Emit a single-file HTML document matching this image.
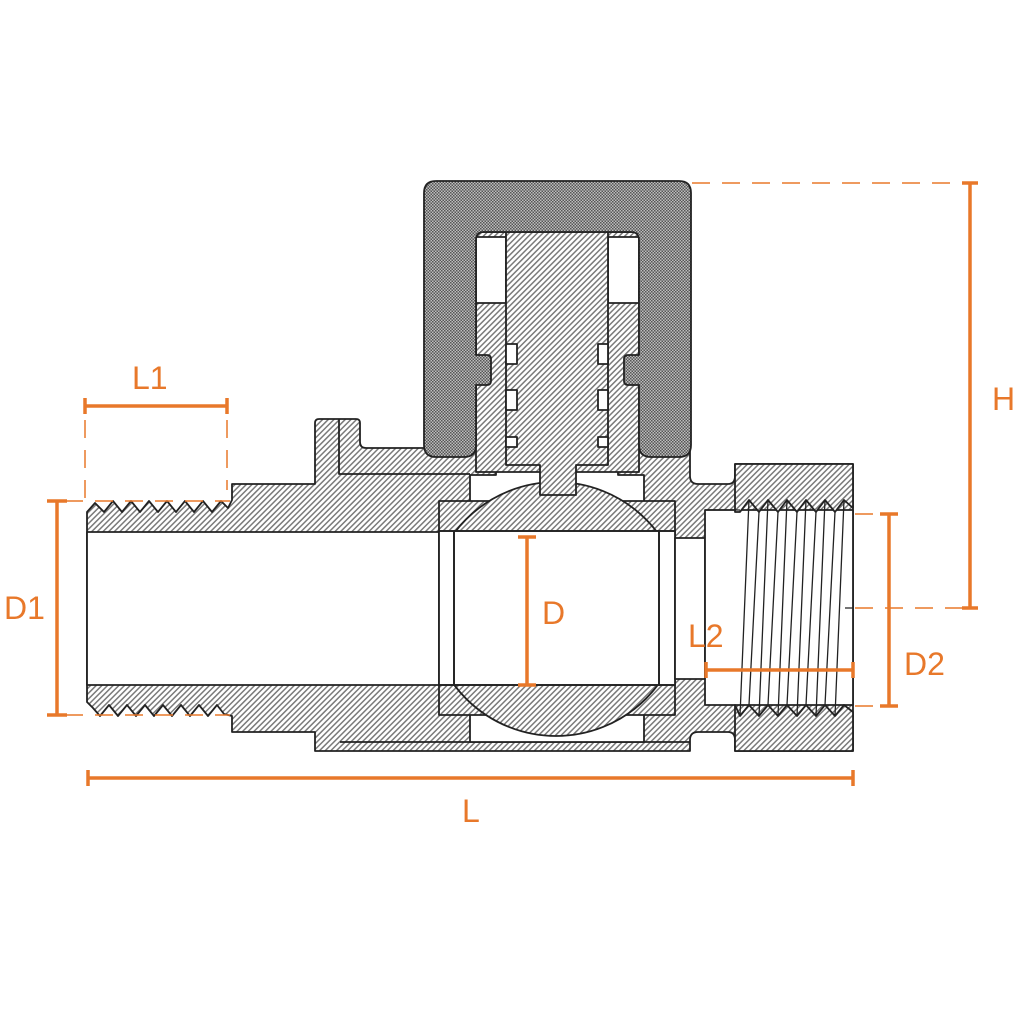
<!DOCTYPE html>
<html><head><meta charset="utf-8"><style>html,body{margin:0;padding:0;background:#fff}svg{display:block}</style></head>
<body>
<svg width="1024" height="1024" viewBox="0 0 1024 1024" xmlns="http://www.w3.org/2000/svg">
<defs>
<pattern id="h" width="4" height="4" patternUnits="userSpaceOnUse" patternTransform="rotate(45)">
<rect width="4" height="4" fill="#fff"/><rect width="1.5" height="4" fill="#7a7a7a"/></pattern>
<pattern id="x" width="3" height="3" patternUnits="userSpaceOnUse">
<rect width="3" height="3" fill="#bdbdbd"/><rect width="1.5" height="1.5" fill="#555"/><rect x="1.5" y="1.5" width="1.5" height="1.5" fill="#555"/></pattern>
</defs>
<g stroke="#222" stroke-width="1.8" stroke-linejoin="round">
<path fill="url(#h)" d="M87,512 L95,503 L104,512 L113,501 L122,512 L131,501 L140,512 L149,501 L158,512 L167,501 L176,512 L185,501 L194,512 L203,501 L212,512 L221,501 L228,508 L232,500 V484 H315 V423 Q315,419 319,419 H356 Q360,419 360,423 V442 Q360,448 366,448 H690 V476 Q690,484 698,484 H728 Q735,484 735,476 V464 H853 V751 H735 V740 Q735,732 728,732 H698 Q690,732 690,740 V751 H315 V732 H232 V716 L224,714 L217,705 L208,716 L199,705 L190,716 L181,705 L172,716 L163,705 L154,716 L145,705 L136,716 L127,705 L118,716 L109,705 L100,716 L93,708 L87,702 Z"/>
<path fill="none" d="M339,419 V474 H470 M340,742 H690"/>
<rect x="87" y="532" width="353" height="153" fill="#fff"/>
<path fill="#fff" d="M470,475 H496 V448 H618 V475 H644 V742 H470 Z"/>
<rect x="439" y="501" width="236" height="214" fill="url(#h)"/>
<rect x="439" y="531" width="236" height="154" fill="#fff"/>
<rect x="675" y="538" width="30" height="141" fill="#fff"/>
<clipPath id="bc"><rect x="454" y="470" width="205" height="280"/></clipPath>
<circle cx="556" cy="609" r="127" fill="url(#h)" clip-path="url(#bc)"/>
<rect x="454" y="531" width="205" height="154" fill="#fff"/>
<path fill="none" d="M454,531 V685 M659,531 V685 M439,531 H675 M439,685 H675"/>
<rect x="705" y="510" width="148" height="195" fill="#fff"/>
<path fill="url(#h)" d="M740,512 L749,500 L759,512 L768,500 L778,512 L787,500 L797,512 L806,500 L816,512 L825,500 L835,512 L844,500 L853,508 V464 H735 V512 Z"/>
<path fill="url(#h)" d="M735,705 L740,716 L749,705 L759,716 L768,705 L778,716 L787,705 L797,716 L806,705 L816,716 L825,705 L835,716 L844,705 L853,712 V751 H735 Z"/>
<path fill="none" stroke-width="1.3" d="M749,500 L740,716 M759,512 L749,705 M768,500 L759,716 M778,512 L768,705 M787,500 L778,716 M797,512 L787,705 M806,500 L797,716 M816,512 L806,705 M825,500 L816,716 M835,512 L825,705 M844,500 L835,716 M705,510 H740 M845,608 H853"/>
<rect x="476" y="232" width="163" height="240" fill="url(#h)"/>
<rect x="476" y="237" width="30" height="66" fill="#fff"/>
<rect x="608" y="237" width="31" height="66" fill="#fff"/>
<path fill="url(#h)" d="M506,232 H608 V465 H576 V495 H540 V465 H506 Z"/>
<rect x="506" y="344" width="11" height="20" fill="#fff"/><rect x="506" y="390" width="11" height="20" fill="#fff"/>
<rect x="598" y="344" width="10" height="20" fill="#fff"/><rect x="598" y="390" width="10" height="20" fill="#fff"/>
<rect x="506" y="437" width="11" height="10" fill="#fff"/><rect x="598" y="437" width="10" height="10" fill="#fff"/>
<path fill="url(#x)" d="M436,181 H679 Q691,181 691,193 V445 Q691,457 679,457 H651 Q639,457 639,445 V385 H628 Q624,385 624,381 V359 Q624,355 628,355 H639 V240 Q639,232 631,232 H484 Q476,232 476,240 V355 H487 Q491,355 491,359 V381 Q491,385 487,385 H476 V445 Q476,457 464,457 H436 Q424,457 424,445 V193 Q424,181 436,181 Z"/>
</g>
<g stroke="#e8782a" fill="none">
<g stroke-width="3.5">
<path d="M85,406 H227 M85,398 V414 M227,398 V414"/>
<path d="M57,501 V715 M47,501 H67 M47,715 H67"/>
<path d="M970,183 V608 M962,183 H978 M962,608 H978"/>
<path d="M889,514 V706 M880,514 H898 M880,706 H898"/>
<path d="M527,537 V685 M518,537 H536 M518,685 H536"/>
<path d="M706,670 H853 M706,662 V678 M853,662 V678"/>
<path d="M88,778 H853 M88,770 V786 M853,770 V786"/>
</g>
<g stroke-width="1.5" stroke-dasharray="18,12">
<path d="M692,183 H962 M855,608 H962 M85,420 V500 M227,420 V490 M65,501 H230 M65,715 H230 M855,514 H885 M855,706 H885"/>
</g>
</g>
<g fill="#e8782a" font-family="Liberation Sans, sans-serif" font-size="32">
<text x="132" y="389">L1</text>
<text x="4" y="619">D1</text>
<text x="992" y="410">H</text>
<text x="904" y="675">D2</text>
<text x="542" y="624">D</text>
<text x="688" y="647">L2</text>
<text x="462" y="822">L</text>
</g>
</svg>
</body></html>
